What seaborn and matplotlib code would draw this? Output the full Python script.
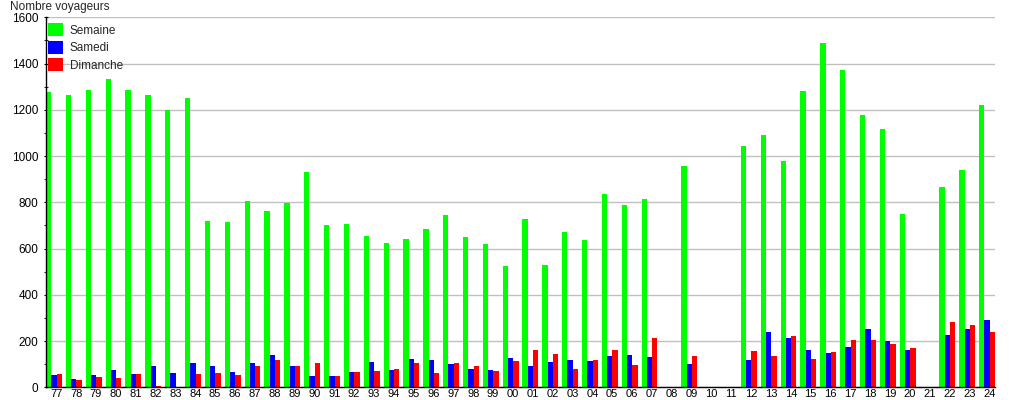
import numpy as np
import pandas as pd
import matplotlib
matplotlib.use("Agg")
import matplotlib.pyplot as plt
import seaborn as sns
from matplotlib.patches import Patch
from matplotlib.ticker import MultipleLocator

annees = ["77", "78", "79", "80", "81", "82", "83", "84", "85", "86", "87", "88",
          "89", "90", "91", "92", "93", "94", "95", "96", "97", "98", "99", "00",
          "01", "02", "03", "04", "05", "06", "07", "08", "09", "10", "11", "12",
          "13", "14", "15", "16", "17", "18", "19", "20", "21", "22", "23", "24"]

semaine = [1277, 1265, 1287, 1335, 1287, 1262, 1200, 1253, 720, 715, 807, 763,
           798, 932, 702, 707, 654, 624, 641, 685, 746, 651, 620, 525,
           729, 530, 671, 637, 837, 789, 814, np.nan, 957, np.nan, np.nan, 1044,
           1091, 979, 1282, 1490, 1373, 1178, 1118, 750, np.nan, 867, 940, 1221]

samedi = [54, 36, 54, 75, 58, 93, 62, 106, 93, 67, 106, 141,
          93, 49, 49, 67, 110, 75, 123, 119, 101, 80, 75, 128,
          93, 110, 119, 114, 136, 141, 132, np.nan, 101, np.nan, np.nan, 119,
          241, 214, 162, 149, 175, 254, 201, 162, np.nan, 228, 254, 293]

dimanche = [58, 32, 45, 41, 58, 6, 0, 58, 62, 54, 93, 119,
            93, 106, 49, 67, 71, 80, 106, 62, 106, 93, 71, 114,
            162, 145, 80, 119, 162, 97, 214, np.nan, 136, np.nan, np.nan, 158,
            136, 223, 123, 154, 206, 206, 188, 171, np.nan, 284, 271, 241]

series = ["Semaine", "Samedi", "Dimanche"]
couleurs = ["#00ff00", "#0000ff", "#ff0000"]

df = pd.DataFrame({
    "annee": annees * 3,
    "voyageurs": semaine + samedi + dimanche,
    "type": [series[0]] * len(annees) + [series[1]] * len(annees) + [series[2]] * len(annees),
})

sns.set_theme(style="white")
plt.rcParams["font.family"] = ["Liberation Sans", "DejaVu Sans"]

fig = plt.figure(figsize=(10.15, 4.0), dpi=100)
ax = fig.add_axes([46 / 1015, 1 - 387.3 / 400, (995 - 46) / 1015, (387.3 - 17.3) / 400])

sns.barplot(data=df, x="annee", y="voyageurs", hue="type", order=annees,
            hue_order=series, palette=couleurs, saturation=1, errorbar=None,
            width=0.8, linewidth=0, ax=ax, legend=False)

ax.set_xlim(-0.4, len(annees) - 0.6)
ax.set_ylim(0, 1600)
ax.yaxis.set_major_locator(MultipleLocator(200))
ax.yaxis.set_minor_locator(MultipleLocator(100))
ax.grid(axis="y", which="major", color="#c0c0c0", linewidth=1.0)
ax.set_axisbelow(True)
ax.set_xlabel("")
ax.set_ylabel("")

ax.set_xticks(np.arange(len(annees)) + 0.12)
ax.set_xticklabels(annees)

for s in ["top", "right"]:
    ax.spines[s].set_visible(False)
for s in ["left", "bottom"]:
    ax.spines[s].set_color("black")
    ax.spines[s].set_linewidth(1.0)

ax.tick_params(axis="y", which="major", length=3, width=0.8, direction="inout",
               labelsize=8.5, pad=4, colors="black", left=True)
ax.tick_params(axis="y", which="minor", length=3, width=0.8, direction="inout", left=True)
ax.tick_params(axis="x", length=0, labelsize=8, pad=1.5, colors="black")

fig.text(10 / 1015, 1 - 7 / 400, "Nombre voyageurs", fontsize=8.5, va="center", ha="left")

handles = [Patch(facecolor=c, edgecolor="none", label=s) for c, s in zip(couleurs, series)]
ax.legend(handles=handles, loc="upper left", bbox_to_anchor=(0.0, 0.99), frameon=False,
          fontsize=8.5, handlelength=1.2, handleheight=1.3, labelspacing=0.35,
          handletextpad=0.6, borderaxespad=0.0, borderpad=0.2)

fig.savefig("out.png", dpi=100)
